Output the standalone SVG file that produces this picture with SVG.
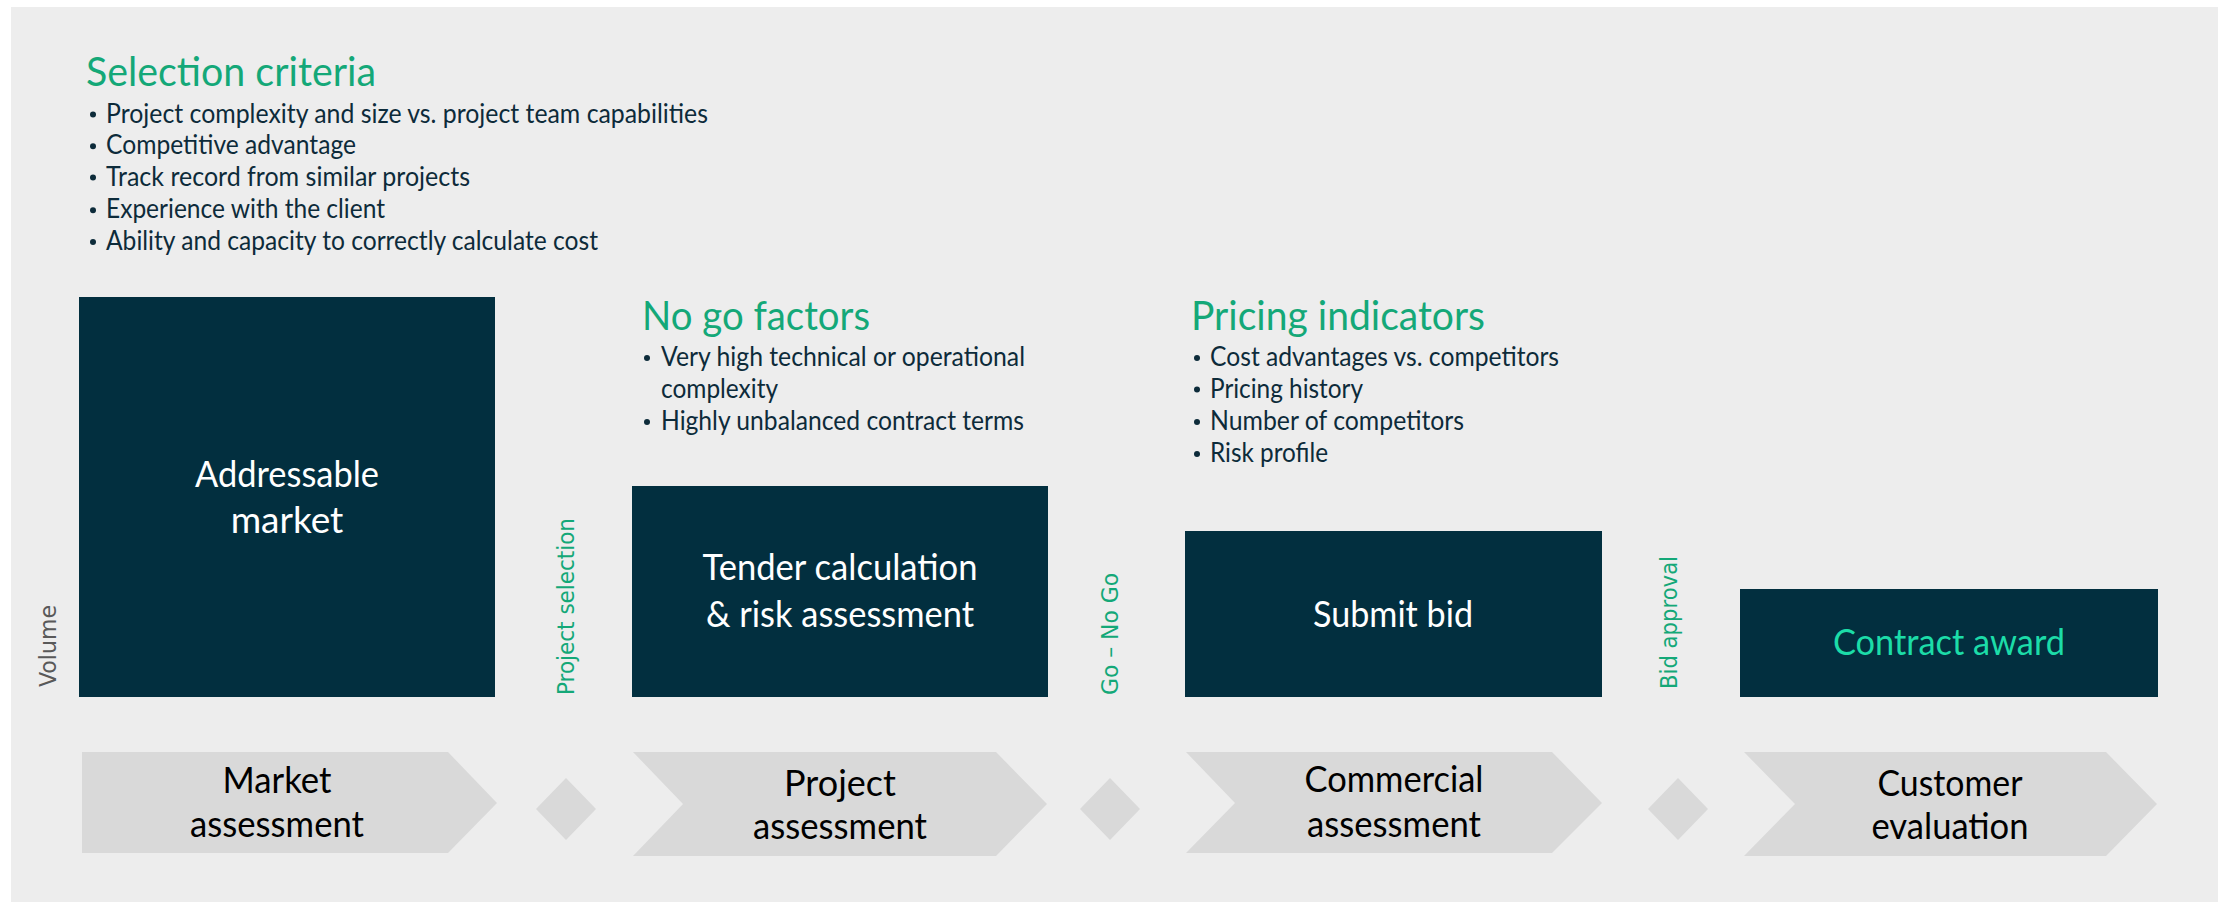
<svg xmlns="http://www.w3.org/2000/svg" width="2224" height="902" viewBox="0 0 2224 902">
  <defs>
    <style>
      .panel { fill: #EDEDED; }
      .box { fill: #022F3F; }
      .step { fill: #D9D9D9; }
      .head { font-family: Lato, "Open Sans", sans-serif; font-size: 40px; fill: #14A878; }
      .item { font-family: Lato, "Open Sans", sans-serif; font-size: 26px; fill: #0D2B3A; }
      .dot { fill: #0D2B3A; }
      .boxlabel { font-family: Lato, "Open Sans", sans-serif; font-size: 37px; fill: #FFFFFF; text-anchor: middle; }
      .award { fill: #1CDCA8; }
      .steplabel { font-family: Lato, "Open Sans", sans-serif; font-size: 36px; fill: #000000; text-anchor: middle; }
      .gate { font-family: "DejaVu Sans", sans-serif; font-size: 22.5px; fill: #14A878; }
      .axis { font-family: "DejaVu Sans", sans-serif; font-size: 22.5px; fill: #595959; }
    </style>
  </defs>

  <rect class="panel" x="11" y="7" width="2207" height="895"/>

  <!-- criteria lists above the funnel -->
  <g id="selection-criteria">
    <text class="head" x="86" y="86" textLength="290" lengthAdjust="spacingAndGlyphs">Selection criteria</text>
    <g class="dot">
      <circle cx="93" cy="114.5" r="3"/>
      <circle cx="93" cy="146.3" r="3"/>
      <circle cx="93" cy="177.5" r="3"/>
      <circle cx="93" cy="210.3" r="3"/>
      <circle cx="93" cy="242" r="3"/>
    </g>
    <g class="item">
      <text x="106" y="122.5" textLength="602" lengthAdjust="spacingAndGlyphs">Project complexity and size vs. project team capabilities</text>
      <text x="106" y="154.3" textLength="250" lengthAdjust="spacingAndGlyphs">Competitive advantage</text>
      <text x="106" y="185.5" textLength="364" lengthAdjust="spacingAndGlyphs">Track record from similar projects</text>
      <text x="106" y="218.3" textLength="279" lengthAdjust="spacingAndGlyphs">Experience with the client</text>
      <text x="106" y="250" textLength="492" lengthAdjust="spacingAndGlyphs">Ability and capacity to correctly calculate cost</text>
    </g>
  </g>

  <g id="no-go-factors">
    <text class="head" x="642" y="330" textLength="228" lengthAdjust="spacingAndGlyphs">No go factors</text>
    <g class="dot">
      <circle cx="647" cy="358" r="3"/>
      <circle cx="647" cy="422" r="3"/>
    </g>
    <g class="item">
      <text x="661" y="366" textLength="364" lengthAdjust="spacingAndGlyphs">Very high technical or operational</text>
      <text x="661" y="397.5" textLength="117" lengthAdjust="spacingAndGlyphs">complexity</text>
      <text x="661" y="430" textLength="363" lengthAdjust="spacingAndGlyphs">Highly unbalanced contract terms</text>
    </g>
  </g>

  <g id="pricing-indicators">
    <text class="head" x="1191" y="330" textLength="294" lengthAdjust="spacingAndGlyphs">Pricing indicators</text>
    <g class="dot">
      <circle cx="1197" cy="358" r="3"/>
      <circle cx="1197" cy="389.5" r="3"/>
      <circle cx="1197" cy="422" r="3"/>
      <circle cx="1197" cy="454" r="3"/>
    </g>
    <g class="item">
      <text x="1210" y="366" textLength="349" lengthAdjust="spacingAndGlyphs">Cost advantages vs. competitors</text>
      <text x="1210" y="397.5" textLength="153" lengthAdjust="spacingAndGlyphs">Pricing history</text>
      <text x="1210" y="430" textLength="254" lengthAdjust="spacingAndGlyphs">Number of competitors</text>
      <text x="1210" y="462" textLength="118" lengthAdjust="spacingAndGlyphs">Risk profile</text>
    </g>
  </g>

  <!-- volume axis label -->
  <g id="volume-axis">
    <text class="axis" transform="translate(56,687) rotate(-90)" textLength="82" lengthAdjust="spacingAndGlyphs">Volume</text>
  </g>

  <!-- funnel stages -->
  <g id="addressable-market">
    <rect class="box" x="79" y="297" width="416" height="400"/>
    <text class="boxlabel" x="287" y="487" textLength="184" lengthAdjust="spacingAndGlyphs">Addressable</text>
    <text class="boxlabel" x="287" y="533">market</text>
  </g>

  <g id="tender-calculation">
    <rect class="box" x="632" y="486" width="416" height="211"/>
    <text class="boxlabel" x="840" y="580" textLength="275" lengthAdjust="spacingAndGlyphs">Tender calculation</text>
    <text class="boxlabel" x="840" y="627" textLength="268" lengthAdjust="spacingAndGlyphs">&amp; risk assessment</text>
  </g>

  <g id="submit-bid">
    <rect class="box" x="1185" y="531" width="417" height="166"/>
    <text class="boxlabel" x="1393" y="627" textLength="160" lengthAdjust="spacingAndGlyphs">Submit bid</text>
  </g>

  <g id="contract-award">
    <rect class="box" x="1740" y="589" width="418" height="108"/>
    <text class="boxlabel award" x="1949" y="655" textLength="232" lengthAdjust="spacingAndGlyphs">Contract award</text>
  </g>

  <!-- gate labels between stages -->
  <g id="gate-project-selection">
    <text class="gate" transform="translate(574,695) rotate(-90)" textLength="177" lengthAdjust="spacingAndGlyphs">Project selection</text>
  </g>
  <g id="gate-go-no-go">
    <text class="gate" transform="translate(1118,695) rotate(-90)" textLength="122" lengthAdjust="spacingAndGlyphs">Go – No Go</text>
  </g>
  <g id="gate-bid-approval">
    <text class="gate" transform="translate(1677,689) rotate(-90)" textLength="133" lengthAdjust="spacingAndGlyphs">Bid approval</text>
  </g>

  <!-- process steps -->
  <g id="step-market-assessment">
    <polygon class="step" points="82,752 448,752 497,803 448,853 82,853"/>
    <text class="steplabel" x="277" y="793" textLength="109" lengthAdjust="spacingAndGlyphs">Market</text>
    <text class="steplabel" x="277" y="837" textLength="174" lengthAdjust="spacingAndGlyphs">assessment</text>
  </g>
  <g id="decision-1">
    <polygon class="step" points="566,778 596,809 566,840 536,809"/>
  </g>
  <g id="step-project-assessment">
    <polygon class="step" points="633,752 996,752 1047,804 996,856 633,856 683,804"/>
    <text class="steplabel" x="840" y="796">Project</text>
    <text class="steplabel" x="840" y="839" textLength="174" lengthAdjust="spacingAndGlyphs">assessment</text>
  </g>
  <g id="decision-2">
    <polygon class="step" points="1110,778 1140,809 1110,840 1080,809"/>
  </g>
  <g id="step-commercial-assessment">
    <polygon class="step" points="1186,752 1552,752 1602,803 1552,853 1186,853 1235,803"/>
    <text class="steplabel" x="1394" y="792" textLength="179" lengthAdjust="spacingAndGlyphs">Commercial</text>
    <text class="steplabel" x="1394" y="837" textLength="174" lengthAdjust="spacingAndGlyphs">assessment</text>
  </g>
  <g id="decision-3">
    <polygon class="step" points="1678,778 1708,809 1678,840 1648,809"/>
  </g>
  <g id="step-customer-evaluation">
    <polygon class="step" points="1744,752 2106,752 2157,804 2106,856 1744,856 1795,804"/>
    <text class="steplabel" x="1950" y="796" textLength="145" lengthAdjust="spacingAndGlyphs">Customer</text>
    <text class="steplabel" x="1950" y="839" textLength="157" lengthAdjust="spacingAndGlyphs">evaluation</text>
  </g>
</svg>
